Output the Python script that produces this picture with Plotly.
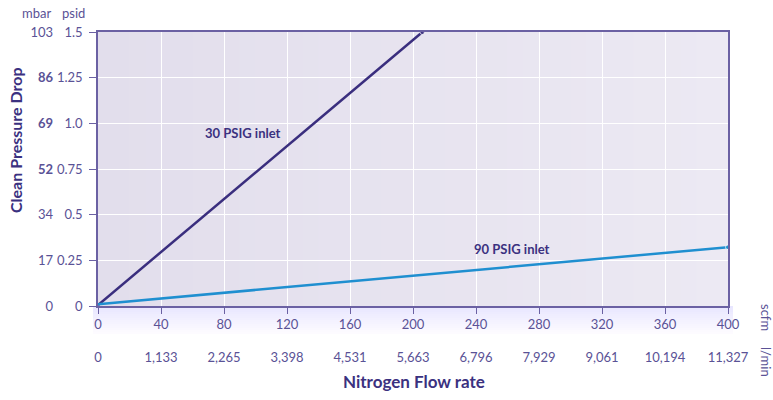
import plotly.graph_objects as go

# ---- data ----
flow_30 = [0, 206]          # scfm
dp_30 = [0.005, 1.5]        # psid
flow_90 = [0, 400]
dp_90 = [0.01, 0.322]

x_ticks = [0, 40, 80, 120, 160, 200, 240, 280, 320, 360, 400]
lmin_labels = ["0", "1,133", "2,265", "3,398", "4,531", "5,663", "6,796", "7,929", "9,061", "10,194", "11,327"]
psid_ticks = [0, 0.25, 0.5, 0.75, 1.0, 1.25, 1.5]
psid_labels = ["0", "0.25", "0.5", "0.75", "1.0", "1.25", "1.5"]
mbar_labels = ["0", "17", "34", "<b>52</b>", "<b>69</b>", "<b>86</b>", "103"]

W, H = 773, 400
L, R, T, B = 98, 728, 32, 306

def px(x):
    return x / W

def py(y):
    return 1 - y / H

TXT = "#5a5296"
DARK = "#3b3180"
AXC = "#6b61a3"
FONT = "Lato"
FS = 13

fig = go.Figure()
fig.add_trace(go.Scatter(x=flow_30, y=dp_30, mode="lines+markers",
                         line=dict(color="#3a2e7e", width=2.5),
                         marker=dict(size=[0, 5], color="#3a2e7e"),
                         showlegend=False, hoverinfo="skip"))
fig.add_trace(go.Scatter(x=flow_90, y=dp_90, mode="lines+markers",
                         line=dict(color="#1f8fd0", width=2.5),
                         marker=dict(size=[0, 5], color="#1f8fd0"),
                         showlegend=False, hoverinfo="skip"))
# helper traces so overlay axes render
fig.add_trace(go.Scatter(x=[None], y=[None], xaxis="x2", yaxis="y", showlegend=False, hoverinfo="skip"))
fig.add_trace(go.Scatter(x=[None], y=[None], xaxis="x", yaxis="y2", showlegend=False, hoverinfo="skip"))

# background gradient in plot area
n = 40
c0 = (226, 222, 236)
c1 = (236, 233, 243)
shapes = []
for i in range(n):
    f = i / (n - 1)
    c = tuple(round(c0[k] + (c1[k] - c0[k]) * f) for k in range(3))
    shapes.append(dict(type="rect", xref="paper", yref="paper",
                       x0=px(L + (R - L) * i / n), x1=px(L + (R - L) * (i + 1) / n) + 0.001,
                       y0=py(B), y1=py(T), fillcolor="rgb(%d,%d,%d)" % c,
                       line=dict(width=0), layer="below"))
# soft shadow under x axis
m = 14
for i in range(m):
    f = i / m
    g = round(232 + (255 - 232) * f)
    shapes.append(dict(type="rect", xref="paper", yref="paper",
                       x0=px(L - 5), x1=px(R + 5),
                       y0=py(B + 2 * (i + 1)), y1=py(B + 2 * i),
                       fillcolor="rgb(%d,%d,%d)" % (g, max(g - 2, 0), 255),
                       line=dict(width=0), layer="below"))

fig.update_layout(
    width=W, height=H,
    margin=dict(l=0, r=0, t=0, b=0, autoexpand=False),
    paper_bgcolor="white",
    plot_bgcolor="rgba(0,0,0,0)",
    font=dict(family=FONT, size=FS, color=TXT),
    shapes=shapes,
    xaxis=dict(domain=[px(L), px(R)], range=[0, 400], tickvals=x_ticks,
               ticktext=[str(v) for v in x_ticks],
               showgrid=True, gridcolor="white", gridwidth=1.2,
               showline=True, linecolor=AXC, linewidth=1.5, mirror=True,
               ticks="outside", ticklen=6, tickcolor=AXC, tickwidth=1.2,
               zeroline=False, tickfont=dict(size=FS, color=TXT), fixedrange=True),
    xaxis2=dict(overlaying="x", anchor="free", position=py(348), side="bottom",
                range=[0, 400], tickvals=x_ticks, ticktext=lmin_labels,
                showgrid=False, showline=False, ticks="", zeroline=False,
                tickfont=dict(size=FS, color=TXT), fixedrange=True),
    yaxis=dict(domain=[py(B), py(T)], range=[0, 1.5], tickvals=psid_ticks,
               ticktext=psid_labels,
               showgrid=True, gridcolor="white", gridwidth=1.2,
               showline=True, linecolor=AXC, linewidth=1.5, mirror=True,
               ticks="outside", ticklen=7, tickcolor=AXC, tickwidth=1.2,
               ticklabelstandoff=4,
               zeroline=False, tickfont=dict(size=FS, color=TXT), fixedrange=True),
    yaxis2=dict(overlaying="y", anchor="free", position=px(53), side="left",
                range=[0, 1.5], tickvals=psid_ticks, ticktext=mbar_labels,
                showgrid=False, showline=False, ticks="", zeroline=False,
                tickfont=dict(size=FS, color=TXT), fixedrange=True),
)

ann = [
    dict(text="mbar", x=px(36), y=py(13)),
    dict(text="psid", x=px(73), y=py(13)),
    dict(text="<b>30 PSIG inlet</b>", x=px(243), y=py(133), color=DARK),
    dict(text="<b>90 PSIG inlet</b>", x=px(512), y=py(249), color=DARK),
    dict(text="<b>Nitrogen Flow rate</b>", x=px(414), y=py(381), color=DARK, size=17),
    dict(text="<b>Clean Pressure Drop</b>", x=px(15), y=py(140), color=DARK, size=16, angle=-90),
    dict(text="scfm", x=px(766), y=py(317), angle=90),
    dict(text="l/min", x=px(766), y=py(362), angle=90),
]
for a in ann:
    fig.add_annotation(text=a["text"], x=a["x"], y=a["y"], xref="paper", yref="paper",
                       showarrow=False, xanchor="center", yanchor="middle",
                       textangle=a.get("angle", 0),
                       font=dict(family=FONT, size=a.get("size", FS), color=a.get("color", TXT)))

fig.write_html("out.html", config={"displayModeBar": False},
               post_script="document.body.style.margin='0';document.body.style.overflow='hidden';")
